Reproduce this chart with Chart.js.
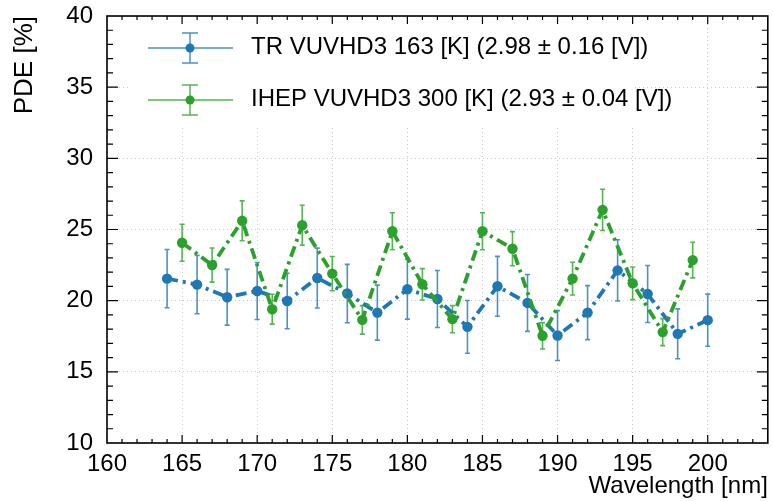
<!DOCTYPE html>
<html>
<head>
<meta charset="utf-8">
<script src="https://cdn.jsdelivr.net/npm/chart.js@4.4.0/dist/chart.umd.min.js"></script>
<style>
  html, body { margin: 0; padding: 0; background: #fff; }
  #wrap { width: 773px; height: 501px; position: relative; }
</style>
</head>
<body>
<div id="wrap"><canvas id="pde"></canvas></div>
<script>
// TR sample, 163 K
const trWavelength = [164, 166, 168, 170, 172, 174, 176, 178, 180, 182, 184, 186, 188, 190, 192, 194, 196, 198, 200];
const trPDE = [21.55, 21.13, 20.24, 20.68, 19.98, 21.59, 20.5, 19.16, 20.8, 20.12, 18.16, 21.01, 19.84, 17.55, 19.16, 22.13, 20.47, 17.67, 18.63];
const trErr = [2.05, 2.05, 1.96, 2.0, 1.95, 2.1, 2.05, 1.93, 2.1, 2.0, 1.85, 2.1, 2.0, 1.75, 1.9, 2.15, 2.0, 1.75, 1.83];

// IHEP sample, 300 K
const ihepWavelength = [165, 167, 169, 171, 173, 175, 177, 179, 181, 183, 185, 187, 189, 191, 193, 195, 197, 199];
const ihepPDE = [24.07, 22.5, 25.61, 19.4, 25.3, 21.9, 18.65, 24.88, 21.15, 18.7, 24.88, 23.65, 17.53, 21.55, 26.38, 21.22, 17.79, 22.85];
const ihepErr = [1.3, 1.2, 1.4, 1.05, 1.4, 1.2, 1.0, 1.3, 1.1, 0.95, 1.3, 1.2, 0.93, 1.15, 1.45, 1.15, 0.95, 1.25];

const seriesLabels = ['TR VUVHD3 163 [K] (2.98 \u00b1 0.16 [V])', 'IHEP VUVHD3 300 [K] (2.93 \u00b1 0.04 [V])'];

const xRange = [160, 204];
const yRange = [10, 40];

const BLUE = '#1f77b4';
const GREEN = '#2ca02c';
const BLUE_ERR = 'rgba(31,119,180,0.8)';
const GREEN_ERR = 'rgba(44,160,44,0.8)';
const FONT = '"Liberation Sans", Arial, Helvetica, sans-serif';

function toPoints(xs, ys) {
    return xs.map((x, i) => ({ x: x, y: ys[i] }));
}

// Error bars drawn under the lines, using the chart scales
const errorBars = {
    id: 'errorBars',
    beforeDatasetsDraw(chart) {
        const ctx = chart.ctx;
        const xs = chart.scales.x, ys = chart.scales.y;
        chart.data.datasets.forEach(ds => {
            ctx.save();
            ctx.strokeStyle = ds.errColor;
            ctx.lineWidth = 1.6;
            ds.data.forEach((p, i) => {
                const px = xs.getPixelForValue(p.x);
                const top = ys.getPixelForValue(p.y + ds.errors[i]);
                const bot = ys.getPixelForValue(p.y - ds.errors[i]);
                ctx.beginPath();
                ctx.moveTo(px, top); ctx.lineTo(px, bot);
                ctx.moveTo(px - 2.5, top); ctx.lineTo(px + 2.5, top);
                ctx.moveTo(px - 2.5, bot); ctx.lineTo(px + 2.5, bot);
                ctx.stroke();
            });
            ctx.restore();
        });
    }
};

// ROOT-like frame with inner ticks, and the legend box
const frameAndLegend = {
    id: 'frameAndLegend',
    afterDraw(chart) {
        const ctx = chart.ctx;
        const a = chart.chartArea;
        const xs = chart.scales.x, ys = chart.scales.y;

        // legend
        const lx0 = a.left + 21, lx1 = a.left + 526, ly1 = a.top + 112;
        ctx.save();
        ctx.fillStyle = '#fff';
        ctx.fillRect(lx0, a.top + 1, lx1 - lx0, ly1 - a.top - 1);
        const items = [
            { color: BLUE, err: BLUE_ERR, cy: a.top + 32, base: a.top + 38 },
            { color: GREEN, err: GREEN_ERR, cy: a.top + 84, base: a.top + 90 }
        ];
        items.forEach((it, i) => {
            const cx = a.left + 83;
            ctx.strokeStyle = it.err;
            ctx.lineWidth = 1.5;
            ctx.beginPath();
            ctx.moveTo(a.left + 41, it.cy); ctx.lineTo(a.left + 126, it.cy);
            ctx.moveTo(cx, it.cy - 15); ctx.lineTo(cx, it.cy + 15);
            ctx.moveTo(cx - 8, it.cy - 15); ctx.lineTo(cx + 8, it.cy - 15);
            ctx.moveTo(cx - 8, it.cy + 15); ctx.lineTo(cx + 8, it.cy + 15);
            ctx.stroke();
            ctx.fillStyle = it.color;
            ctx.beginPath();
            ctx.arc(cx, it.cy, 4.5, 0, Math.PI * 2);
            ctx.fill();
            ctx.fillStyle = '#000';
            ctx.font = '24px ' + FONT;
            ctx.textBaseline = 'alphabetic';
            ctx.fillText(seriesLabels[i], a.left + 144, it.base);
        });

        // ticks
        ctx.strokeStyle = '#000';
        ctx.lineWidth = 1.2;
        ctx.beginPath();
        for (let v = xRange[0] + 1; v < xRange[1]; v++) {
            const px = xs.getPixelForValue(v);
            const len = v % 5 === 0 ? 8 : 4;
            ctx.moveTo(px, a.bottom); ctx.lineTo(px, a.bottom - len);
            ctx.moveTo(px, a.top); ctx.lineTo(px, a.top + len);
        }
        for (let v = yRange[0] + 1; v < yRange[1]; v++) {
            const py = ys.getPixelForValue(v);
            const len = v % 5 === 0 ? 11 : 6;
            ctx.moveTo(a.left, py); ctx.lineTo(a.left + len, py);
            ctx.moveTo(a.right, py); ctx.lineTo(a.right - len, py);
        }
        ctx.stroke();

        // frame
        ctx.lineWidth = 1.6;
        ctx.strokeRect(a.left, a.top, a.right - a.left, a.bottom - a.top);
        ctx.restore();
    }
};

new Chart(document.getElementById('pde'), {
    type: 'line',
    data: {
        datasets: [
            {
                label: seriesLabels[0],
                data: toPoints(trWavelength, trPDE),
                errors: trErr,
                errColor: BLUE_ERR,
                borderColor: BLUE,
                backgroundColor: BLUE,
                borderWidth: 3.8,
                borderDash: [11, 5, 3, 5],
                pointRadius: 5.2,
                pointBorderWidth: 0,
                tension: 0,
                order: 1
            },
            {
                label: seriesLabels[1],
                data: toPoints(ihepWavelength, ihepPDE),
                errors: ihepErr,
                errColor: GREEN_ERR,
                borderColor: GREEN,
                backgroundColor: GREEN,
                borderWidth: 3.8,
                borderDash: [11, 5, 3, 5],
                pointRadius: 5.2,
                pointBorderWidth: 0,
                tension: 0,
                order: 0
            }
        ]
    },
    options: {
        responsive: true,
        maintainAspectRatio: false,
        animation: false,
        layout: { padding: { top: 16, right: 2, left: 0, bottom: 0 } },
        plugins: {
            legend: { display: false },
            tooltip: { enabled: false }
        },
        scales: {
            x: {
                type: 'linear',
                min: xRange[0],
                max: xRange[1],
                afterFit(scale) { scale.height = 58; },
                ticks: {
                    stepSize: 5,
                    includeBounds: false,
                    autoSkip: false,
                    color: '#000',
                    padding: 7,
                    maxRotation: 0,
                    font: { family: FONT, size: 24 }
                },
                grid: { color: '#c8c8c8', lineWidth: 1, drawTicks: false },
                border: { display: false, dash: [1, 3] },
                title: {
                    display: true,
                    text: 'Wavelength [nm]',
                    align: 'end',
                    color: '#000',
                    font: { family: FONT, size: 24 },
                    padding: { top: -6, bottom: 0 }
                }
            },
            y: {
                min: yRange[0],
                max: yRange[1],
                afterFit(scale) {
                    scale.width = 107;
                    scale.paddingTop = 0;
                    scale.paddingBottom = 0;
                },
                ticks: {
                    stepSize: 5,
                    color: '#000',
                    padding: 14,
                    font: { family: FONT, size: 24 }
                },
                grid: { color: '#c8c8c8', lineWidth: 1, drawTicks: false },
                border: { display: false, dash: [1, 3] },
                title: {
                    display: true,
                    text: 'PDE [%]',
                    align: 'end',
                    color: '#000',
                    font: { family: FONT, size: 26 },
                    padding: { top: 9, bottom: 0 }
                }
            }
        }
    },
    plugins: [errorBars, frameAndLegend]
});
</script>
</body>
</html>
